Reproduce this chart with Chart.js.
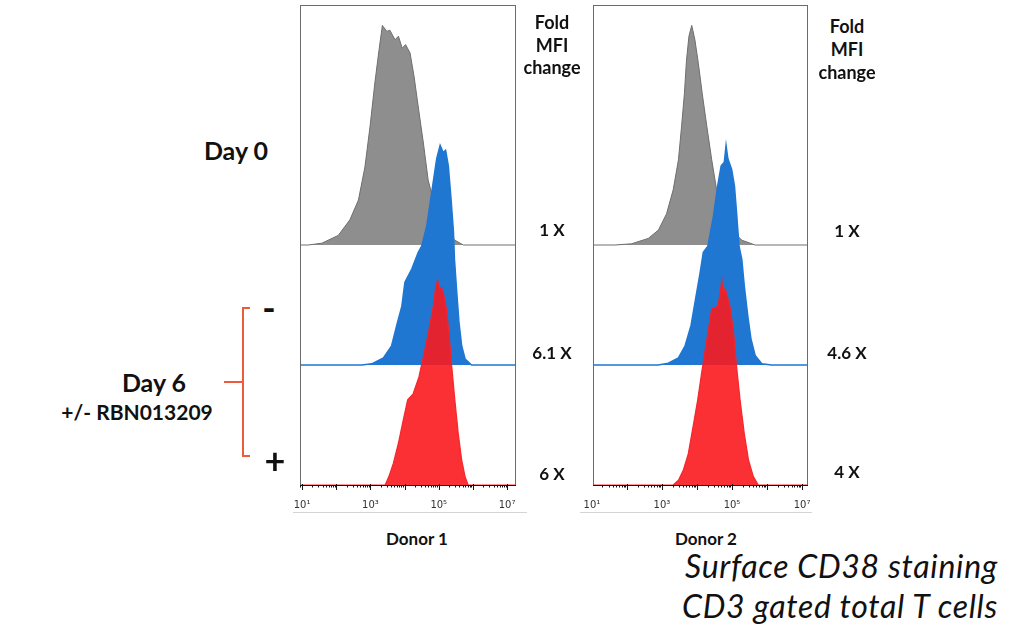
<!DOCTYPE html>
<html lang="en">
<head>
<meta charset="UTF-8">
<title>Surface CD38 staining</title>
<style>
    html, body{
        margin: 0;
        padding: 0;
        background: #fff;
    }
    body{
        width: 1019px;
        height: 638px;
        position: relative;
        overflow: hidden;
        font-family: Lato, "Open Sans", sans-serif;
        color: #111;
    }
    canvas{
        position: absolute;
    }
    .t{
        position: absolute;
        transform: translate(-50%, -50%);
        white-space: nowrap;
        font-weight: bold;
        line-height: 1;
    }
    .spalte{ font-size: 18px; }
    .wert{ font-size: 17px; }
    .donor{ font-size: 17px; }
    .klammer{
        position: absolute;
        background: #ee5b3b;
    }
    .rand{
        position: absolute;
        height: 1px;
        background: #d4d4d4;
    }
    .notiz{
        position: absolute;
        right: 21px;
        transform: translateY(-50%);
        font-style: italic;
        font-size: 32px;
        letter-spacing: 0.7px;
        line-height: 1;
        white-space: nowrap;
    }
</style>
</head>
<body>
    <canvas id="donor1" width="256" height="513" style="left:280px; top:0;"></canvas>
    <canvas id="donor2" width="255" height="513" style="left:573px; top:0;"></canvas>

    <div class="rand" style="left:293px; top:512px; width:234px;"></div>
    <div class="rand" style="left:580px; top:512px; width:232px;"></div>

    <div class="t" style="left:236px; top:150px; font-size:25px;">Day 0</div>
    <div class="t" style="left:154px; top:382px; font-size:25px;">Day 6</div>
    <div class="t" style="left:137px; top:411px; font-size:21px;">+/- RBN013209</div>
    <div class="t" style="left:269px; top:307px; font-size:36px;">-</div>
    <div class="t" style="left:275px; top:460px; font-size:36px;">+</div>

    <div class="klammer" style="left:242px; top:307px; width:2px; height:150px;"></div>
    <div class="klammer" style="left:242px; top:307px; width:8px; height:2px;"></div>
    <div class="klammer" style="left:242px; top:455px; width:8px; height:2px;"></div>
    <div class="klammer" style="left:224px; top:381px; width:19px; height:2px;"></div>

    <div id="spalte1"></div>
    <div id="spalte2"></div>

    <div class="t donor" style="left:417px; top:538px;">Donor 1</div>
    <div class="t donor" style="left:706px; top:538px;">Donor 2</div>

    <div class="notiz" style="top:566px;">Surface CD38 staining</div>
    <div class="notiz" style="top:606px;">CD3 gated total T cells</div>

    <script src="https://cdn.jsdelivr.net/npm/chart.js"></script>
    <script>
        // x = log10 Fluoreszenz, y = normierte Zellzahl (Peak ~1.8)
        const d1GrauX = [0.9, 1.18, 1.58, 2.06, 2.40, 2.65, 2.84, 2.99, 3.13, 3.25, 3.35, 3.48, 3.57, 3.72, 3.82, 3.93, 4.03, 4.16, 4.28, 4.40, 4.55, 4.69, 4.89, 5.13, 5.47, 5.72, 7.3];
        const d1GrauY = [0, 0, 0.015, 0.08, 0.21, 0.375, 0.65, 0.99, 1.35, 1.62, 1.83, 1.78, 1.79, 1.71, 1.74, 1.64, 1.67, 1.60, 1.40, 1.15, 0.85, 0.54, 0.32, 0.15, 0.04, 0, 0];
        const d1BlauX = [0.9, 2.75, 3.04, 3.38, 3.62, 3.77, 3.92, 4.01, 4.21, 4.40, 4.50, 4.65, 4.81, 4.94, 5.04, 5.13, 5.20, 5.28, 5.36, 5.43, 5.46, 5.52, 5.59, 5.67, 5.77, 5.96, 7.3];
        const d1BlauY = [0, 0, 0.01, 0.06, 0.16, 0.33, 0.49, 0.69, 0.80, 0.94, 0.99, 1.16, 1.47, 1.72, 1.83, 1.77, 1.79, 1.66, 1.38, 1.11, 0.88, 0.63, 0.36, 0.16, 0.05, 0, 0];
        const d1RotX = [0.9, 3.43, 3.54, 3.67, 3.82, 3.96, 4.09, 4.25, 4.42, 4.55, 4.69, 4.84, 4.91, 4.97, 5.02, 5.08, 5.15, 5.23, 5.30, 5.38, 5.47, 5.57, 5.67, 5.77, 5.86, 7.3];
        const d1RotY = [0, 0, 0.07, 0.18, 0.35, 0.54, 0.71, 0.76, 0.90, 1.07, 1.26, 1.49, 1.65, 1.71, 1.63, 1.65, 1.58, 1.46, 1.26, 0.99, 0.71, 0.43, 0.21, 0.07, 0, 0];

        const d2GrauX = [0.9, 1.66, 2.13, 2.61, 2.90, 3.13, 3.32, 3.47, 3.56, 3.64, 3.70, 3.77, 3.85, 3.94, 4.04, 4.15, 4.28, 4.42, 4.56, 4.75, 4.99, 5.28, 5.66, 7.3];
        const d2GrauY = [0, 0, 0.01, 0.055, 0.125, 0.26, 0.46, 0.71, 0.99, 1.26, 1.54, 1.74, 1.83, 1.71, 1.51, 1.26, 0.99, 0.71, 0.46, 0.26, 0.125, 0.04, 0, 0];
        const d2BlauX = [0.9, 2.89, 3.18, 3.47, 3.66, 3.83, 3.96, 4.09, 4.18, 4.31, 4.47, 4.59, 4.69, 4.78, 4.83, 4.88, 4.99, 5.07, 5.13, 5.20, 5.28, 5.35, 5.45, 5.54, 5.66, 5.85, 6.13, 7.3];
        const d2BlauY = [0, 0, 0.015, 0.06, 0.16, 0.33, 0.55, 0.77, 0.94, 0.99, 1.24, 1.49, 1.66, 1.69, 1.83, 1.72, 1.63, 1.49, 1.27, 0.99, 0.88, 0.66, 0.41, 0.22, 0.08, 0.01, 0, 0];
        const d2RotX = [0.9, 3.32, 3.47, 3.61, 3.75, 3.89, 4.02, 4.13, 4.23, 4.34, 4.42, 4.60, 4.66, 4.71, 4.75, 4.80, 4.88, 4.94, 5.04, 5.13, 5.23, 5.35, 5.47, 5.61, 5.75, 7.3];
        const d2RotY = [0, 0, 0.04, 0.125, 0.26, 0.49, 0.71, 0.93, 1.12, 1.32, 1.47, 1.49, 1.60, 1.71, 1.60, 1.64, 1.56, 1.49, 1.29, 0.99, 0.71, 0.43, 0.21, 0.07, 0, 0];

        const tickDekaden = [1, 3, 5, 7];
        const tickTexte = ['10¹', '10³', '10⁵', '10⁷'];
        const spaltenKopf = ['Fold', 'MFI', 'change'];
        const foldDonor1 = ['1 X', '6.1 X', '6 X'];
        const foldDonor2 = ['1 X', '4.6 X', '4 X'];

        // Versatz der drei Histogramme (Day 0 oben, - Mitte, + unten)
        const versatzGrau = 2, versatzBlau = 1, versatzRot = 0;

        function punkte(xs, ys, versatz){
            return xs.map((x, i) => ({x: x, y: ys[i] + versatz}));
        }

        function histo(xs, ys, versatz, farbe, linie, breite){
            return {
                data: punkte(xs, ys, versatz),
                fill: {value: versatz},
                backgroundColor: farbe,
                borderColor: linie,
                borderWidth: breite,
                pointRadius: 0,
                tension: 0
            };
        }

        const rahmen = {
            id: 'rahmen',
            afterDatasetsDraw(chart){
                const ctx = chart.ctx;
                const a = chart.chartArea;
                const x = chart.scales.x;
                ctx.save();
                ctx.strokeStyle = '#6b6b6b';
                ctx.lineWidth = 1;
                ctx.strokeRect(a.left + 0.5, a.top + 0.5, a.right - a.left - 1, a.bottom - a.top);
                ctx.strokeStyle = '#151515';
                ctx.beginPath();
                ctx.moveTo(a.left, a.bottom + 0.5);
                ctx.lineTo(a.right, a.bottom + 0.5);
                for (let d = 0; d <= 7; d++){
                    for (let k = 1; k < 10; k++){
                        const v = d + Math.log10(k);
                        if (v < x.min || v > x.max) continue;
                        const px = Math.round(x.getPixelForValue(v)) + 0.5;
                        const len = k === 1 ? 5 : 2.5;
                        ctx.moveTo(px, a.bottom - (k === 1 ? 1 : 0));
                        ctx.lineTo(px, a.bottom + len);
                    }
                }
                ctx.stroke();
                ctx.restore();
            }
        };

        function diagrammErstellen(id, xMin, xMax, grau, blau, rot){
            return new Chart(document.getElementById(id), {
                type: 'line',
                data: {
                    datasets: [
                        histo(rot[0], rot[1], versatzRot, 'rgba(250,26,30,0.9)', 'rgba(245,35,40,0.95)', 1.2),
                        histo(blau[0], blau[1], versatzBlau, 'rgb(31,119,210)', 'rgb(31,119,210)', 1.5),
                        histo(grau[0], grau[1], versatzGrau, 'rgb(142,142,142)', 'rgb(110,110,110)', 1)
                    ]
                },
                options: {
                    responsive: false,
                    animation: false,
                    devicePixelRatio: 1,
                    events: [],
                    layout: {padding: {left: 20, right: 20, top: 5, bottom: 0}},
                    plugins: {legend: {display: false}, tooltip: {enabled: false}},
                    scales: {
                        x: {
                            type: 'linear',
                            min: xMin,
                            max: xMax,
                            grid: {display: false},
                            border: {display: false},
                            afterBuildTicks: s => { s.ticks = tickDekaden.map(v => ({value: v})); },
                            afterFit: s => { s.height = 28; },
                            ticks: {
                                autoSkip: false,
                                maxRotation: 0,
                                padding: 6,
                                color: '#333',
                                font: {size: 10, family: 'DejaVu Sans'},
                                callback: v => tickTexte[tickDekaden.indexOf(v)] || ''
                            }
                        },
                        y: {display: false, min: 0, max: 4}
                    }
                },
                plugins: [rahmen]
            });
        }

        diagrammErstellen('donor1', 0.94, 7.26, [d1GrauX, d1GrauY], [d1BlauX, d1BlauY], [d1RotX, d1RotY]);
        diagrammErstellen('donor2', 1.03, 7.17, [d2GrauX, d2GrauY], [d2BlauX, d2BlauY], [d2RotX, d2RotY]);

        // Spalten "Fold MFI change"
        function spalteErstellen(id, xMitte, kopfY, werte, werteY){
            const box = document.getElementById(id);
            spaltenKopf.forEach((txt, i) => {
                const el = document.createElement('div');
                el.className = 't spalte';
                el.style.left = xMitte + 'px';
                el.style.top = kopfY[i] + 'px';
                el.textContent = txt;
                box.appendChild(el);
            });
            werte.forEach((txt, i) => {
                const el = document.createElement('div');
                el.className = 't wert';
                el.style.left = xMitte + 'px';
                el.style.top = werteY[i] + 'px';
                el.textContent = txt;
                box.appendChild(el);
            });
        }

        spalteErstellen('spalte1', 552, [22, 45, 67], foldDonor1, [229, 352, 473]);
        spalteErstellen('spalte2', 847, [26, 49, 72], foldDonor2, [230, 352, 471]);
    </script>
</body>
</html>
